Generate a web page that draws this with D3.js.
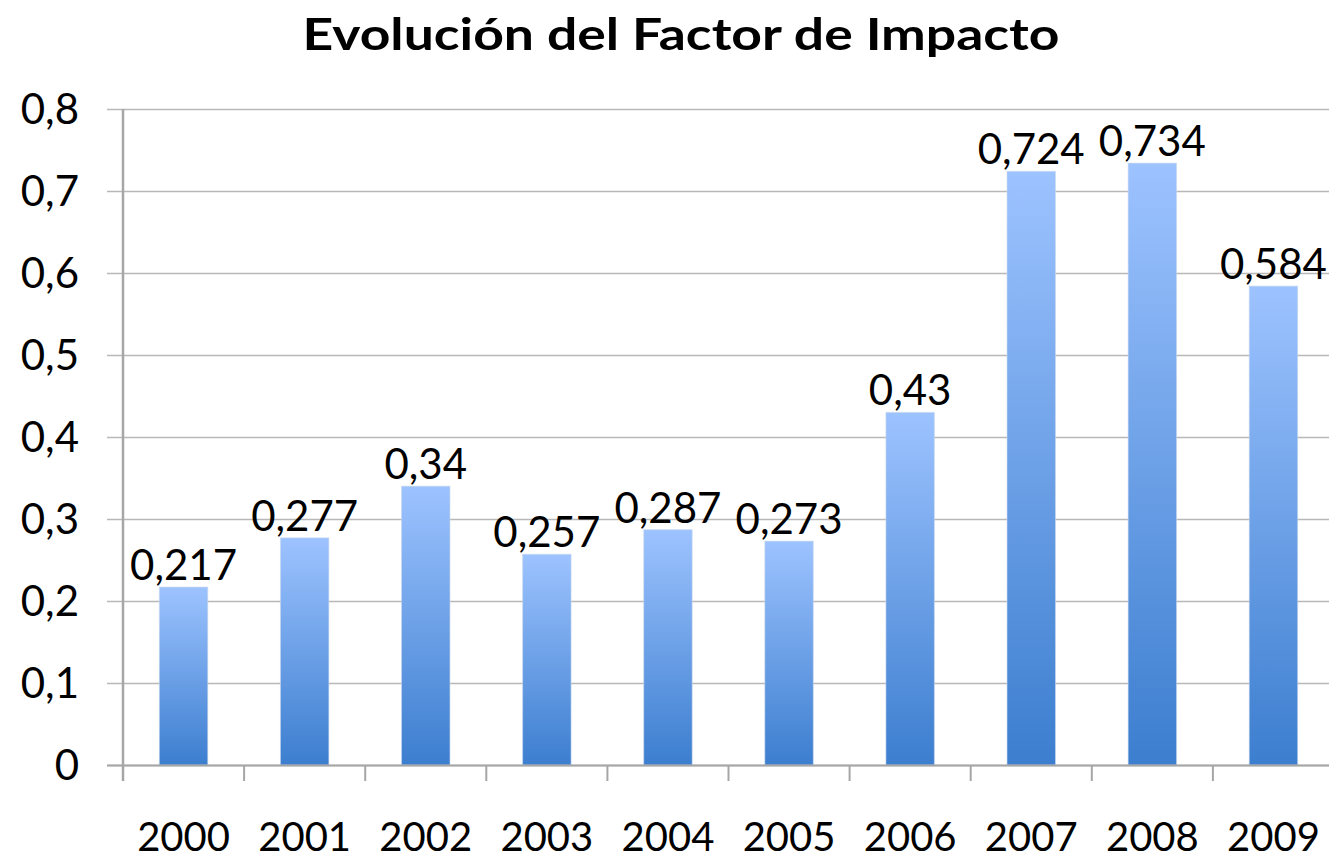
<!DOCTYPE html>
<html>
<head>
<meta charset="utf-8">
<script src="https://cdn.jsdelivr.net/npm/d3@7"></script>
<style>
  html, body { margin: 0; padding: 0; background: #fff; overflow: hidden; }
  svg { display: block; }
  text { font-family: Lato, "Open Sans", "Liberation Sans", sans-serif; fill: #000; }
</style>
</head>
<body>
<svg id="chart" width="1329" height="860"></svg>
<script>
const title = "Evolución del Factor de Impacto";
const years = ["2000", "2001", "2002", "2003", "2004", "2005", "2006", "2007", "2008", "2009"];
const values = [0.217, 0.277, 0.34, 0.257, 0.287, 0.273, 0.43, 0.724, 0.734, 0.584];
const yTicks = [0, 0.1, 0.2, 0.3, 0.4, 0.5, 0.6, 0.7, 0.8];

const svg = d3.select("#chart");
const W = 1329, H = 860;
const plotLeft = 123, plotRight = 1334, plotTop = 109, plotBottom = 765;

const fmt = v => String(v).replace(".", ",");

const x = d3.scaleBand().domain(years).range([plotLeft, plotRight]).paddingInner(0.6).paddingOuter(0.3);
const y = d3.scaleLinear().domain([0, 0.8]).range([plotBottom, plotTop]);

// gradient
const defs = svg.append("defs");
const grad = defs.append("linearGradient").attr("id", "barGrad")
  .attr("x1", 0).attr("y1", 0).attr("x2", 0).attr("y2", 1);
grad.append("stop").attr("offset", "0%").attr("stop-color", "#9DC3FF");
grad.append("stop").attr("offset", "100%").attr("stop-color", "#3C7ECF");

// gridlines
svg.append("g").selectAll("line").data(yTicks).join("line")
  .attr("x1", plotLeft - 16).attr("x2", W)
  .attr("y1", d => Math.round(y(d)) + 0.5).attr("y2", d => Math.round(y(d)) + 0.5)
  .attr("stroke", "#B8B8B8").attr("stroke-width", 1.5);

// y labels
svg.append("g").selectAll("text").data(yTicks).join("text")
  .attr("x", 79).attr("y", d => y(d)).attr("dy", "0.36em")
  .attr("text-anchor", "end").attr("font-size", 42)
  .text(d => fmt(d));

// bars
svg.append("g").selectAll("rect").data(values).join("rect")
  .attr("x", (d, i) => x(years[i])).attr("width", x.bandwidth())
  .attr("y", d => y(d)).attr("height", d => y(0) - y(d))
  .attr("fill", "url(#barGrad)")
  .attr("stroke", "rgba(200,215,235,0.6)").attr("stroke-width", 1);

// y axis line
svg.append("line").attr("x1", plotLeft).attr("x2", plotLeft).attr("y1", plotTop).attr("y2", plotBottom + 16)
  .attr("stroke", "#A6A6A6").attr("stroke-width", 2.5);

// x axis line
svg.append("line").attr("x1", plotLeft - 16).attr("x2", W).attr("y1", plotBottom + 0.5).attr("y2", plotBottom + 0.5)
  .attr("stroke", "#A6A6A6").attr("stroke-width", 2);

// x ticks at category boundaries
const step = x.step();
const tickPos = d3.range(years.length + 1).map(i => plotLeft + i * step);
svg.append("g").selectAll("line").data(tickPos).join("line")
  .attr("x1", d => d).attr("x2", d => d).attr("y1", plotBottom).attr("y2", plotBottom + 16)
  .attr("stroke", "#A6A6A6").attr("stroke-width", 2);

// year labels
svg.append("g").selectAll("text").data(years).join("text")
  .attr("x", d => x(d) + x.bandwidth() / 2).attr("y", 851)
  .attr("text-anchor", "middle").attr("font-size", 40)
  .text(d => d);

// data labels
svg.append("g").selectAll("text").data(values).join("text")
  .attr("x", (d, i) => x(years[i]) + x.bandwidth() / 2).attr("y", d => y(d) - 7)
  .attr("text-anchor", "middle").attr("font-size", 42)
  .text(d => fmt(d));

// title
svg.append("text").attr("x", 681).attr("y", 50)
  .attr("text-anchor", "middle").attr("font-size", 44).attr("font-weight", "bold")
  .attr("textLength", 757).attr("lengthAdjust", "spacingAndGlyphs")
  .text(title);
</script>
</body>
</html>
